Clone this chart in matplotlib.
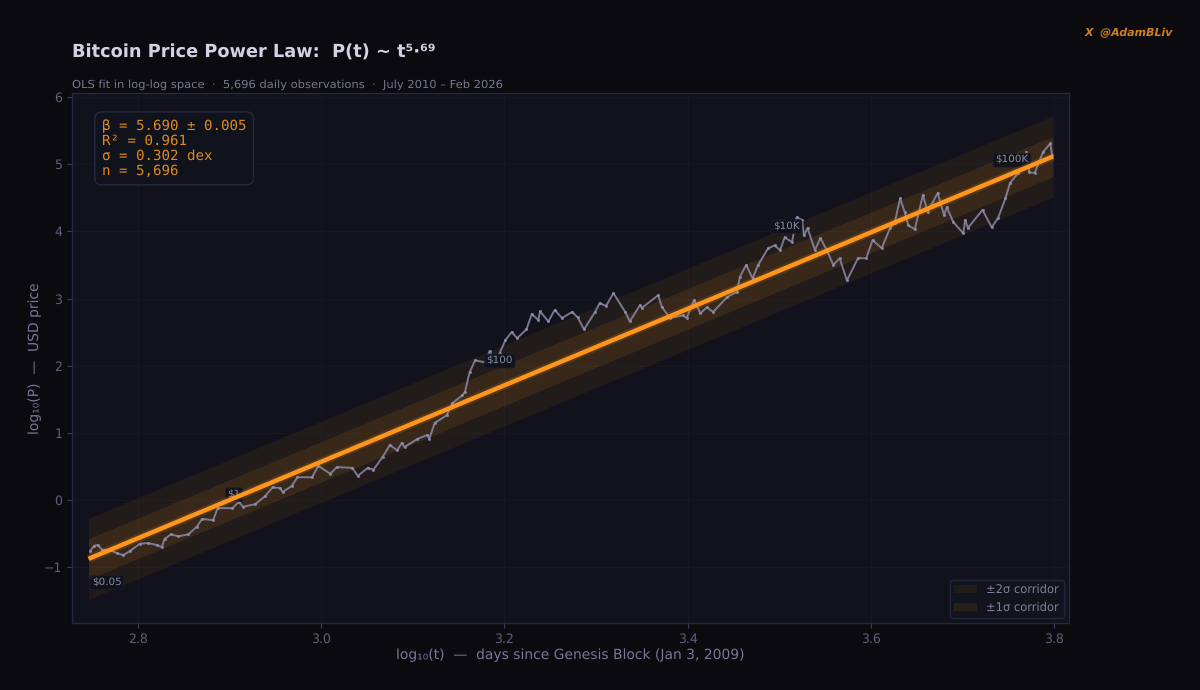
import matplotlib

matplotlib.use("Agg")
import matplotlib.pyplot as plt
import numpy as np

plt.rcParams["text.hinting"] = "no_hinting"

# values, log10 days vs log10 price
log_t = [
    2.748, 2.752, 2.756, 2.761, 2.769, 2.777, 2.784, 2.791, 2.802, 2.811, 2.821, 2.826,
    2.829, 2.836, 2.844, 2.855, 2.864, 2.870, 2.882, 2.887, 2.903, 2.910, 2.915, 2.928,
    2.939, 2.947, 2.955, 2.958, 2.968, 2.974, 2.990, 2.997, 3.010, 3.017, 3.034, 3.040,
    3.051, 3.057, 3.067, 3.075, 3.083, 3.088, 3.091, 3.105, 3.116, 3.118, 3.124, 3.137,
    3.143, 3.154, 3.157, 3.162, 3.168, 3.179, 3.184, 3.189, 3.195, 3.201, 3.208, 3.214,
    3.224, 3.230, 3.237, 3.239, 3.248, 3.255, 3.263, 3.274, 3.280, 3.287, 3.299, 3.304,
    3.311, 3.319, 3.332, 3.337, 3.348, 3.350, 3.368, 3.372, 3.381, 3.395, 3.399, 3.407,
    3.414, 3.421, 3.428, 3.443, 3.454, 3.457, 3.464, 3.471, 3.477, 3.488, 3.495, 3.501,
    3.506, 3.514, 3.519, 3.525, 3.527, 3.531, 3.539, 3.545, 3.552, 3.559, 3.566, 3.574,
    3.586, 3.595, 3.602, 3.612, 3.621, 3.626, 3.632, 3.637, 3.641, 3.648, 3.657, 3.662,
    3.673, 3.680, 3.683, 3.690, 3.701, 3.703, 3.706, 3.722, 3.732, 3.739, 3.747, 3.752,
    3.761, 3.767, 3.770, 3.773, 3.779, 3.788, 3.796, 3.798,
]
log_p = [
    -0.76, -0.68, -0.67, -0.74, -0.74, -0.79, -0.82, -0.76, -0.65, -0.64, -0.67, -0.70,
    -0.58, -0.51, -0.54, -0.51, -0.40, -0.28, -0.30, -0.12, -0.12, -0.03, -0.10, -0.06,
    0.06, 0.19, 0.18, 0.12, 0.21, 0.34, 0.34, 0.51, 0.39, 0.49, 0.48, 0.36,
    0.48, 0.45, 0.64, 0.82, 0.74, 0.85, 0.79, 0.91, 0.97, 0.91, 1.15, 1.26,
    1.44, 1.56, 1.61, 1.90, 2.08, 2.05, 2.22, 2.05, 2.19, 2.38, 2.50, 2.41,
    2.54, 2.77, 2.68, 2.81, 2.66, 2.83, 2.71, 2.80, 2.72, 2.54, 2.80, 2.93,
    2.89, 3.08, 2.80, 2.66, 2.90, 2.86, 3.05, 2.87, 2.71, 2.75, 2.71, 2.98,
    2.78, 2.87, 2.80, 3.02, 3.10, 3.32, 3.50, 3.30, 3.50, 3.75, 3.79, 3.72,
    3.91, 3.84, 4.21, 4.17, 3.94, 4.05, 3.72, 3.90, 3.72, 3.50, 3.60, 3.27,
    3.60, 3.60, 3.87, 3.75, 4.05, 4.12, 4.49, 4.29, 4.09, 4.03, 4.54, 4.29,
    4.57, 4.24, 4.36, 4.14, 3.97, 4.17, 4.05, 4.32, 4.06, 4.20, 4.49, 4.72,
    4.87, 4.99, 5.18, 4.88, 4.87, 5.18, 5.31, 5.13,
]

fit_t = [2.746, 3.799]
beta = 5.69
intercept = -16.5
sigma = 0.302

price_labels = ["$0.05", "$1", "$100", "$10K", "$100K"]
label_t = [2.766, 2.905, 3.195, 3.508, 3.754]
label_p = [-1.23, 0.08, 2.07, 4.07, 5.06]

x_ticks = [2.8, 3.0, 3.2, 3.4, 3.6, 3.8]
y_ticks = [-1, 0, 1, 2, 3, 4, 5, 6]

stats_text = "β = 5.690 ± 0.005\nR² = 0.961\nσ = 0.302 dex\nn = 5,696"

BG = "#0a0a0f"
PANEL = "#11121b"
EDGE = "#262840"
ORANGE = "#f7931a"

fig = plt.figure(figsize=(12, 6.9), dpi=100, facecolor=BG)
ax = fig.add_axes([72 / 1200, 1 - 623 / 690, 997 / 1200, 530 / 690], facecolor=PANEL)

fit_t_arr = np.array(fit_t)
fit_p = intercept + beta * fit_t_arr

ax.fill_between(
    fit_t_arr, fit_p - 2 * sigma, fit_p + 2 * sigma,
    color=ORANGE, alpha=0.07, lw=0, label="±2σ corridor", zorder=2,
)
ax.fill_between(
    fit_t_arr, fit_p - sigma, fit_p + sigma,
    color=ORANGE, alpha=0.11, lw=0, label="±1σ corridor", zorder=2,
)

ax.plot(log_t, log_p, color="#9090b0", lw=1.4, alpha=0.8, marker="o", ms=2.2, mew=0, zorder=3)
ax.plot(fit_t_arr, fit_p, color=ORANGE, lw=6, alpha=0.15, zorder=4, solid_capstyle="butt")
ax.plot(fit_t_arr, fit_p, color="#ff961c", lw=3.2, zorder=5, solid_capstyle="butt")

for name, t, p in zip(price_labels, label_t, label_p):
    ax.text(
        t, p, name, color="#8a8aa0", fontsize=7.5, ha="center", va="center", zorder=3.5,
        bbox=dict(boxstyle="round,pad=0.2", fc="#0f111c", ec="#1c1e2e", lw=0.6, alpha=0.9),
    )

ax.set_xlim(2.728, 3.8164)
ax.set_ylim(-1.83, 6.06)
ax.set_xticks(x_ticks)
ax.set_yticks(y_ticks)
ax.set_yticklabels(["\u2212" + str(-v) if v < 0 else str(v) for v in y_ticks])
ax.grid(True, color="#1a1c28", lw=0.6, alpha=0.7, zorder=1)
ax.set_axisbelow(True)
ax.tick_params(colors="#5f5f78", labelsize=9, length=3.5, width=0.8, color="#3a3c55")
for spine in ax.spines.values():
    spine.set_color(EDGE)
    spine.set_linewidth(1)

ax.set_xlabel("log₁₀(t)  —  days since Genesis Block (Jan 3, 2009)", color="#77779a", fontsize=10, labelpad=2)
ax.set_ylabel("log₁₀(P)  —  USD price", color="#77779a", fontsize=10, labelpad=1)

ax.text(
    0.030, 0.951, stats_text, transform=ax.transAxes, color="#e08a1e", fontsize=10.15,
    family="DejaVu Sans Mono", va="top", ha="left", linespacing=1.13, zorder=6,
    bbox=dict(boxstyle="round,pad=0.5", fc="#10121c", ec=EDGE, lw=1),
)

leg = ax.legend(
    loc="lower right", fontsize=8.3, frameon=True, facecolor="#12141e", edgecolor=EDGE,
    labelcolor="#80809a", borderaxespad=0.45, handlelength=2.0,
)
leg.get_frame().set_alpha(0.95)
leg.set_zorder(6)

fig.text(72 / 1200, 1 - 53 / 690, "Bitcoin Price Power Law:  P(t) ~ t⁵·⁶⁹", color="#d2d2e2",
         fontsize=12.8, fontweight="bold", va="center", ha="left")
fig.text(72 / 1200, 1 - 85 / 690, "OLS fit in log-log space  ·  5,696 daily observations  ·  July 2010 – Feb 2026",
         color="#77778f", fontsize=8.27, va="center", ha="left")
fig.text(1173 / 1200, 1 - 33 / 690, "X  @AdamBLiv", color="#d07f1e", fontsize=7.9,
         fontweight="bold", style="italic", va="center", ha="right")

fig.savefig("out.png", dpi=100, facecolor=BG)
